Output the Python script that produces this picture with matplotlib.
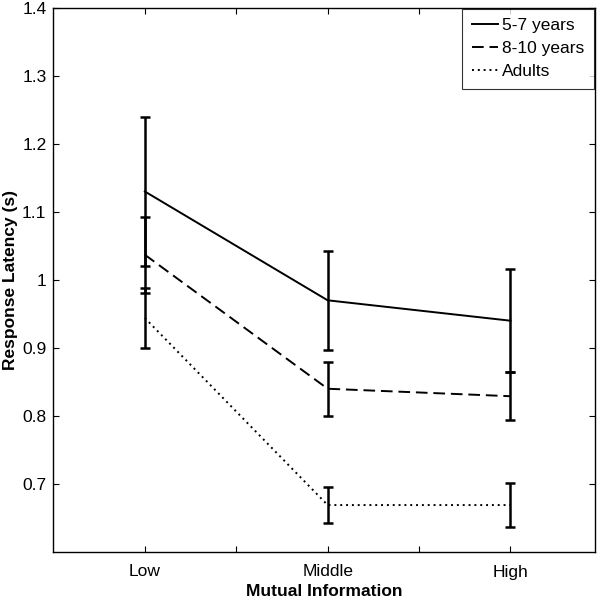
import matplotlib
matplotlib.use("Agg")
import matplotlib.pyplot as plt

plt.rcParams["font.family"] = ["Liberation Sans", "DejaVu Sans"]

# x positions and category labels
x_pos = [1, 2, 3]
x_labels = ["Low", "Middle", "High"]

# mean response latency (s) and error bar half-widths
kids57_mean = [1.13, 0.970, 0.940]
kids57_err = [0.110, 0.073, 0.076]
kids810_mean = [1.037, 0.840, 0.829]
kids810_err = [0.056, 0.040, 0.035]
adults_mean = [0.944, 0.669, 0.669]
adults_err = [0.044, 0.026, 0.032]

series = [
    ("5-7 years", kids57_mean, kids57_err, "-"),
    ("8-10 years", kids810_mean, kids810_err, (0, (6, 3))),
    ("Adults", adults_mean, adults_err, (0, (1, 2))),
]

fig = plt.figure(figsize=(6, 6), dpi=100)
ax = fig.add_axes([0.089, 0.08, 0.902, 0.907])

for label, mean, err, ls in series:
    ax.plot(x_pos, mean, color="black", linestyle=ls, linewidth=1.4, label=label)
    ax.errorbar(x_pos, mean, yerr=err, fmt="none", ecolor="black",
                elinewidth=1.8, capsize=3.3, capthick=1.8)

ax.set_xlim(0.5, 3.46)
ax.set_ylim(0.6, 1.4)
ax.set_xticks([1, 1.5, 2, 2.5, 3])
ax.set_xticklabels([x_labels[0], "", x_labels[1], "", x_labels[2]])
ax.set_yticks([0.7, 0.8, 0.9, 1.0, 1.1, 1.2, 1.3, 1.4])
ax.set_yticklabels(["0.7", "0.8", "0.9", "1", "1.1", "1.2", "1.3", "1.4"])
ax.tick_params(direction="in", top=True, right=True, length=4, width=0.8,
               labelsize=12.5)
ax.tick_params(axis="x", pad=9)
ax.tick_params(axis="y", pad=5)
for sp in ax.spines.values():
    sp.set_linewidth(1.0)

ax.set_xlabel("Mutual Information", fontsize=12.5, fontweight="bold", labelpad=3)
ax.set_ylabel("Response Latency (s)", fontsize=12.5, fontweight="bold", labelpad=3)

leg = ax.legend(loc="upper right", fontsize=12.5, frameon=True, fancybox=False,
                edgecolor="black", borderaxespad=0.05, handlelength=1.5,
                handletextpad=0.25, borderpad=0.55, labelspacing=0.45)
leg.get_frame().set_linewidth(0.8)

fig.savefig("out.png", dpi=100)
